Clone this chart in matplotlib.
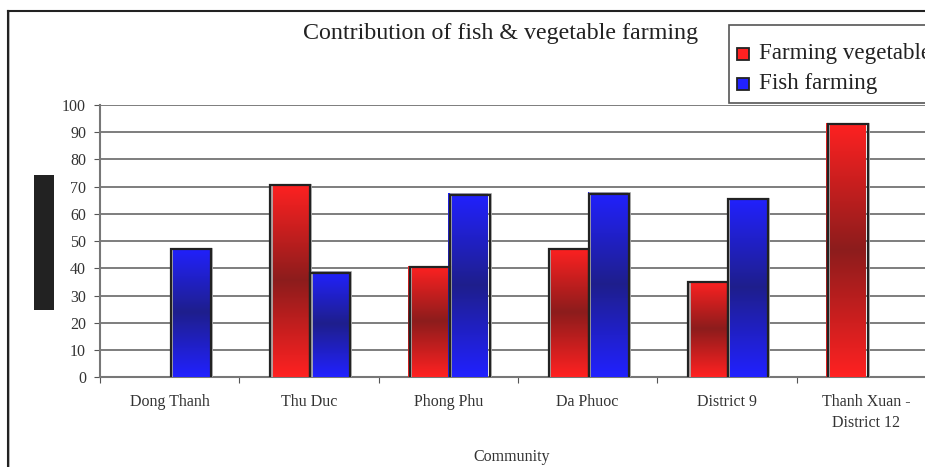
import matplotlib
matplotlib.use('Agg')
import matplotlib.pyplot as plt
import matplotlib.transforms as mtransforms
from matplotlib.patches import Rectangle
from matplotlib.lines import Line2D
import numpy as np

plt.rcParams['font.family'] = ['Liberation Serif', 'DejaVu Serif']

# community names along the x axis
communities = ['Dong Thanh', 'Thu Duc', 'Phong Phu', 'Da Phuoc', 'District 9',
               'Thanh Xuan -\nDistrict 12']
# share (%) of each farming type per community, 0 = not present
vegetable = [0, 71, 41, 47.5, 35.5, 93.5]
fish = [47.5, 39, 67.5, 68, 66, 0]
y_ticks = [0, 10, 20, 30, 40, 50, 60, 70, 80, 90, 100]

red_light, red_dark = np.array([1.0, 0.13, 0.13]), np.array([0.55, 0.11, 0.11])
blue_light, blue_dark = np.array([0.13, 0.13, 1.0]), np.array([0.12, 0.12, 0.55])

fig = plt.figure(figsize=(9.25, 4.67), dpi=100)
ax = fig.add_axes([100 / 925, 1 - 377.3 / 467, 836 / 925, 272.3 / 467])


def gradient(light, dark, n=200):
    # bright at the bar ends, darkest in the middle
    t = np.linspace(0, 1, n)
    f = 1 - np.abs(2 * t - 1)
    cols = light[None, :] * (1 - f[:, None]) + dark[None, :] * f[:, None]
    return cols[:, None, :]


def draw_bars(xs, heights, width, light, dark):
    grad = gradient(light, dark)
    shadow = mtransforms.offset_copy(ax.transData, fig, x=2.5, y=-1.0, units='dots')
    outline = mtransforms.offset_copy(ax.transData, fig, x=1.2, y=-1.5, units='dots')
    bars = ax.bar(xs, heights, width, align='edge', facecolor='none',
                  edgecolor='none', zorder=3)
    for b, h in zip(bars, heights):
        if h <= 0:
            continue
        x0 = b.get_x()
        im = ax.imshow(grad, extent=[x0, x0 + width, 0, h], origin='lower',
                       aspect='auto', zorder=3, interpolation='bilinear')
        im.set_clip_path(b)
        ax.add_patch(Rectangle((x0, 0), width, h, fill=False, edgecolor='#b0b0b0',
                               lw=1.3, transform=shadow, zorder=4))
        ax.add_patch(Rectangle((x0, 0), width, h, fill=False, edgecolor='#222222',
                               lw=1.6, transform=outline, zorder=5))


idx = np.arange(len(communities))
w = 0.287
draw_bars(idx + 0.5 - w, vegetable, w, red_light, red_dark)
draw_bars(idx + 0.5, fish, w, blue_light, blue_dark)

ax.set_xlim(0, len(communities))
ax.set_ylim(0, 100)
ax.set_yticks(y_ticks)
ax.set_yticklabels([str(v) for v in y_ticks])
ax.set_xticks(np.arange(len(communities) + 1))
ax.set_xticklabels([])
ax.set_xticks(idx + 0.5, minor=True)
ax.set_xticklabels(communities, minor=True, fontsize=11.5, linespacing=1.45,
                   color='#333333')
ax.tick_params(axis='x', which='minor', length=0, pad=12)
ax.tick_params(axis='x', which='major', length=4, color='#555555', direction='out')
ax.tick_params(axis='y', length=4, color='#555555', labelsize=11.5, pad=6,
               labelcolor='#333333')

ax.yaxis.grid(True, color='#5a5a5a', lw=1.1)
ax.set_axisbelow(True)
for s in ['top', 'right']:
    ax.spines[s].set_visible(False)
for s in ['left', 'bottom']:
    ax.spines[s].set_color('#777777')
    ax.spines[s].set_linewidth(1.5)

ax.set_xlabel('Community', fontsize=11.5, color='#333333')
ax.xaxis.set_label_coords(412 / 836, -(449 - 377.3) / 272.3)

fig.text(501 / 925, 1 - 33 / 467, 'Contribution of fish & vegetable farming',
         fontsize=17.3, ha='center', va='center', color='#222222')

# y axis title block
fig.add_artist(Rectangle((34 / 925, 1 - 310 / 467), 20 / 925, 135 / 467,
                         transform=fig.transFigure, facecolor='#222222',
                         edgecolor='none'))

# chart border, left and top edges
fig.add_artist(Line2D([9 / 925, 9 / 925], [0, 1 - 11 / 467], transform=fig.transFigure,
                      color='#b0b0b0', lw=1.2))
fig.add_artist(Line2D([8 / 925, 8 / 925], [0, 1 - 11 / 467], transform=fig.transFigure,
                      color='#222222', lw=1.5))
fig.add_artist(Line2D([8 / 925, 1], [1 - 11 / 467, 1 - 11 / 467], transform=fig.transFigure,
                      color='#222222', lw=1.5))

# legend box, runs past the right edge
fig.add_artist(Rectangle((729 / 925, 1 - 103 / 467), 220 / 925, 78 / 467,
                         transform=fig.transFigure, facecolor='white',
                         edgecolor='#555555', lw=1.2))
for label, col, yc in [('Farming vegetable', red_light, 54), ('Fish farming', blue_light, 84)]:
    fig.add_artist(Rectangle((737 / 925, 1 - (yc + 6) / 467), 12 / 925, 12 / 467,
                             transform=fig.transFigure, facecolor=col,
                             edgecolor='#222222', lw=1.3))
    fig.text(759 / 925, 1 - yc / 467, label, fontsize=16.6, ha='left', va='center',
             color='#222222')

fig.savefig('out.png', dpi=100)
